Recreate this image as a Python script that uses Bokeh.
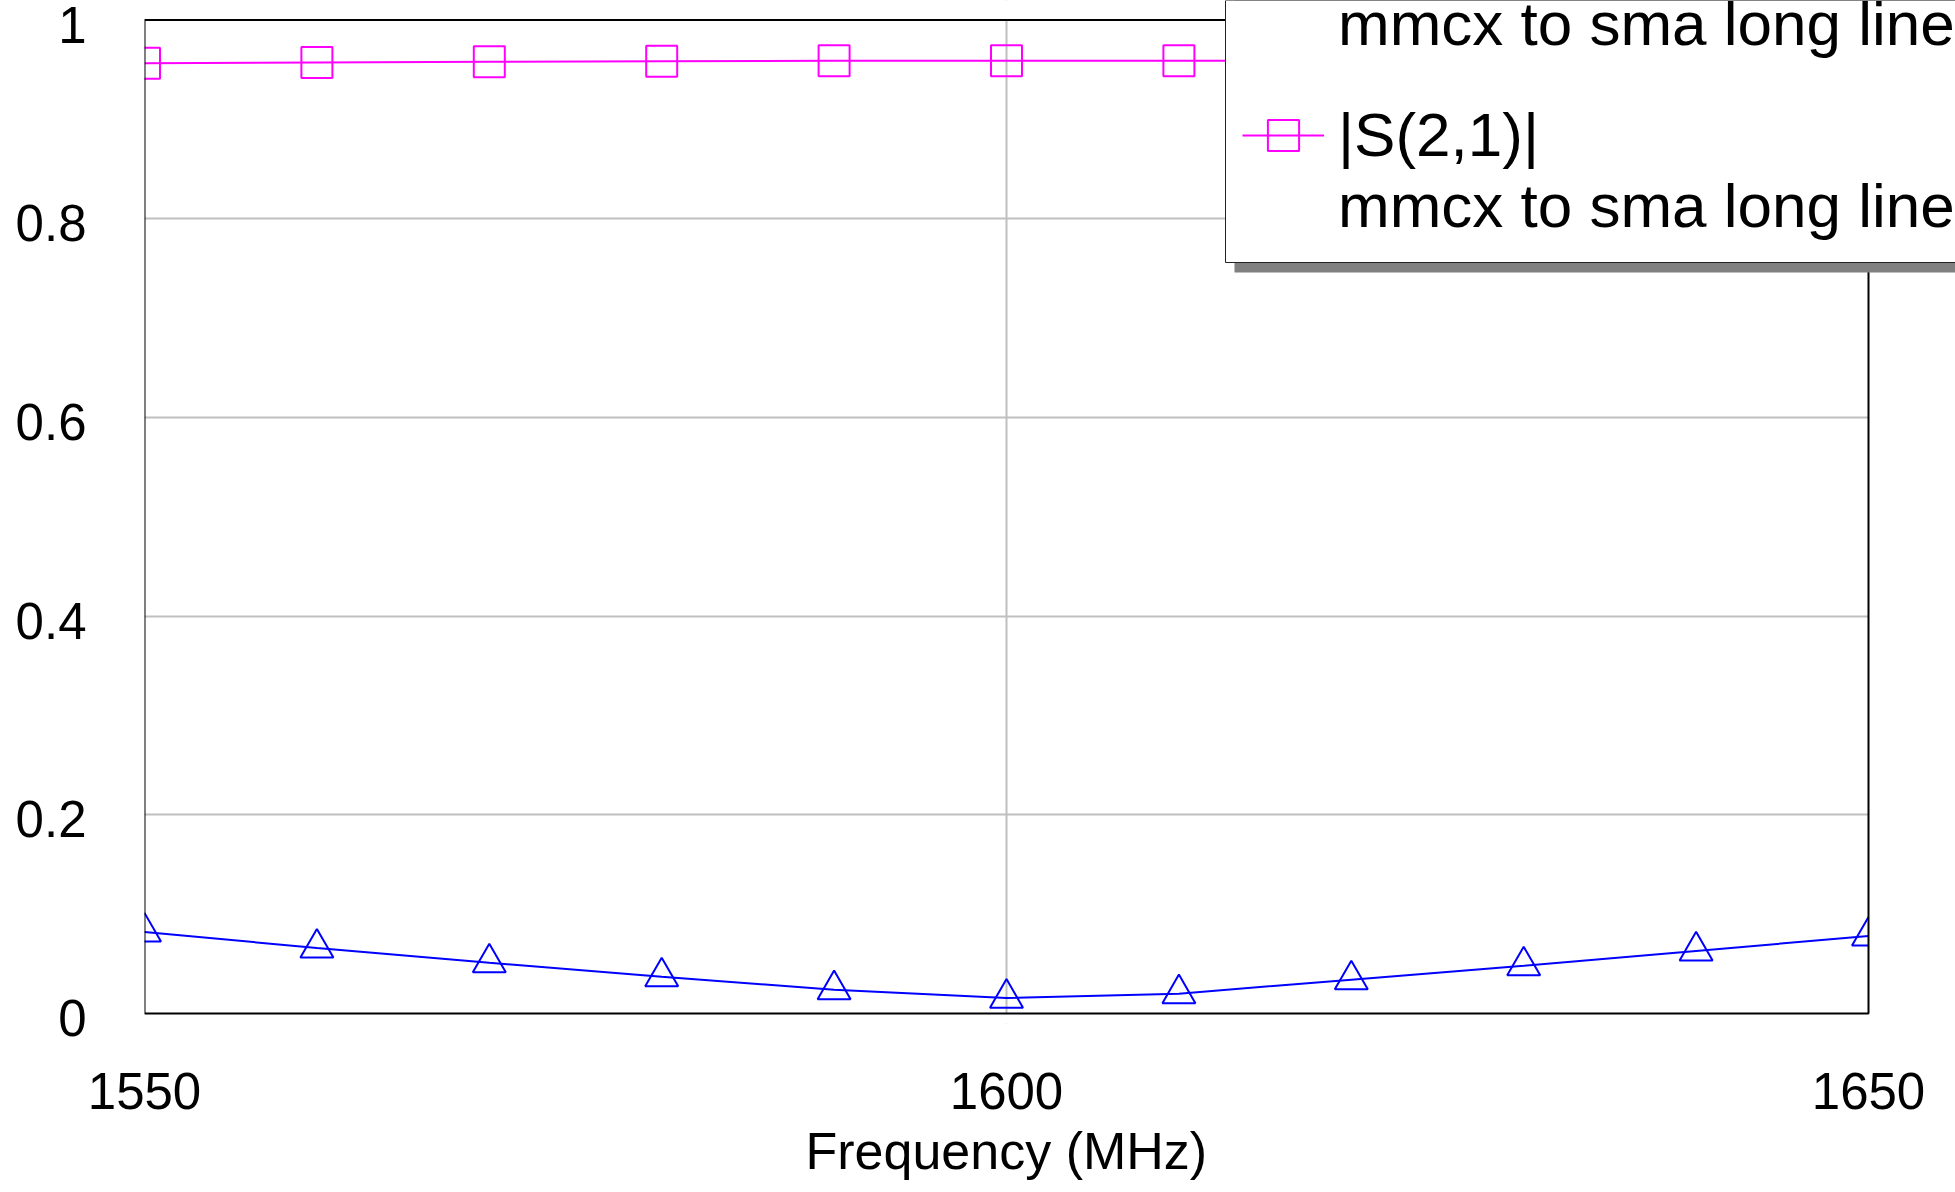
from bokeh.plotting import figure
from bokeh.models import (FixedTicker, Legend, LegendItem, BoxAnnotation,
                          NumeralTickFormatter, LinearAxis, Range1d, Title)
from bokeh.embed import file_html
from bokeh.resources import INLINE

# ---- data ----
freq_mhz = [1550, 1560, 1570, 1580, 1590, 1600, 1610, 1620, 1630, 1640, 1650]
s11_mag = [0.082, 0.066, 0.051, 0.037, 0.024, 0.0155, 0.020, 0.034, 0.048, 0.063, 0.078]
s21_mag = [0.9565, 0.9572, 0.9579, 0.9585, 0.9589, 0.9590, 0.9590, 0.9588, 0.9585, 0.9580, 0.9575]
x_ticks = [1550, 1600, 1650]
y_ticks = [0, 0.2, 0.4, 0.6, 0.8, 1]
x_grid_ticks = [1600]
y_grid_ticks = [0.2, 0.4, 0.6, 0.8]
series_names = ["|S(1,1)|", "|S(2,1)|"]
series_subtitle = "mmcx to sma long line"
x_label = "Frequency (MHz)"

X_MIN, X_MAX = 1550, 1650
Y_MIN, Y_MAX = 0, 1

FONT = "Liberation Sans"
BLUE = "#0000FF"
MAGENTA = "#FF00FF"

# plot box: x=144..1868 px, y=19.5..1013 px. The Bokeh frame itself runs to the top and
# right edges of the canvas (and a little below the box) so the legend can run off the picture.
W, H = 1955, 1192
BOX_L, BOX_R, BOX_T, BOX_B = 144, 1868, 19.5, 1013
EXTRA_BOTTOM = 10
FRAME_B = BOX_B + EXTRA_BOTTOM
px_per_x = (BOX_R - BOX_L) / (X_MAX - X_MIN)
px_per_y = (BOX_B - BOX_T) / (Y_MAX - Y_MIN)
x_end = X_MAX + (W - BOX_R) / px_per_x
y_end = Y_MAX + BOX_T / px_per_y
y_start = Y_MIN - EXTRA_BOTTOM / px_per_y
label_shift = 4.5 / px_per_y   # tick labels sit slightly below their ticks


def x_at(px):
    return X_MIN + (px - BOX_L) / px_per_x


def y_at(px):
    return Y_MIN + (BOX_B - px) / px_per_y


p = figure(width=W, height=H, x_range=Range1d(X_MIN, x_end), y_range=Range1d(y_start, y_end),
           output_backend="svg", toolbar_location=None, y_axis_location=None,
           min_border_left=BOX_L, min_border_right=0, min_border_top=0,
           min_border_bottom=H - FRAME_B)
p.title.visible = False
p.background_fill_color = "white"
p.border_fill_color = "white"
p.outline_line_color = None

# x axis
xa = p.xaxis[0]
xa.ticker = FixedTicker(ticks=x_ticks)
xa.major_label_standoff = 43

# x axis title, centred under the plot box
p.add_layout(Title(text=x_label, align="left", offset=661, standoff=17,
                   text_font=FONT, text_font_size="52px", text_font_style="normal",
                   text_color="black"), "below")

# y axis (labels on a range shifted by a few pixels)
p.extra_y_ranges = {"labels": Range1d(y_start + label_shift, y_end + label_shift)}
ya = LinearAxis(y_range_name="labels", ticker=FixedTicker(ticks=y_ticks),
                formatter=NumeralTickFormatter(format="0.[0]"))
ya.major_label_standoff = 52
p.add_layout(ya, "left")

for ax in (xa, ya):
    ax.axis_line_color = None
    ax.major_tick_line_color = None
    ax.minor_tick_line_color = None
    ax.major_label_text_font = FONT
    ax.major_label_text_font_size = "51px"
    ax.major_label_text_color = "black"

# grids
p.xgrid.ticker = FixedTicker(ticks=x_grid_ticks)
p.ygrid.ticker = FixedTicker(ticks=y_grid_ticks)
p.grid.grid_line_color = "#c0c0c0"
p.grid.grid_line_width = 2

# series
r11_line = p.line(freq_mhz, s11_mag, line_color=BLUE, line_width=2)
r11_pts = p.scatter(freq_mhz, s11_mag, marker="triangle", size=33,
                    line_color=BLUE, fill_color=None, line_width=2)
r21_line = p.line(freq_mhz, s21_mag, line_color=MAGENTA, line_width=2)
r21_pts = p.scatter(freq_mhz, s21_mag, marker="square", size=31,
                    line_color=MAGENTA, fill_color=None, line_width=2)

# white masks outside the plot box, then the plot box border
for kw in (dict(left=X_MAX), dict(bottom=Y_MAX), dict(top=Y_MIN)):
    p.add_layout(BoxAnnotation(fill_color="white", fill_alpha=1.0, line_color=None, **kw))
p.add_layout(BoxAnnotation(left=X_MIN, right=X_MAX, bottom=Y_MIN, top=Y_MAX,
                           fill_alpha=0, line_color="black", line_alpha=1.0, line_width=2))

# legend box (runs off the top and right of the picture) with its drop shadow
p.add_layout(BoxAnnotation(left=x_at(1234), bottom=y_at(272), fill_color="#808080",
                           fill_alpha=1.0, line_color=None))
p.add_layout(BoxAnnotation(left=x_at(1225), bottom=y_at(262), fill_color="white",
                           fill_alpha=1.0, line_color="#222222", line_alpha=1.0, line_width=1))

legend_style = dict(margin=0, padding=17, spacing=0, glyph_width=82, glyph_height=78,
                    label_standoff=14, label_text_font=FONT, label_text_font_size="62px",
                    label_text_color="black", border_line_color=None,
                    background_fill_alpha=0.0)
# (name, renderers, bottom edge of the entry's text block in px)
entries = [(series_names[0], [r11_line, r11_pts], 59),
           (series_names[1], [r21_line, r21_pts], 241)]
for name, renderers, bottom_px in entries:
    lg = Legend(items=[LegendItem(label="\n" + name + "\n" + series_subtitle,
                                  renderers=renderers)],
                location=(1242 - BOX_L, FRAME_B - bottom_px), **legend_style)
    p.add_layout(lg)

open("out.html", "w").write(file_html(p, INLINE))
